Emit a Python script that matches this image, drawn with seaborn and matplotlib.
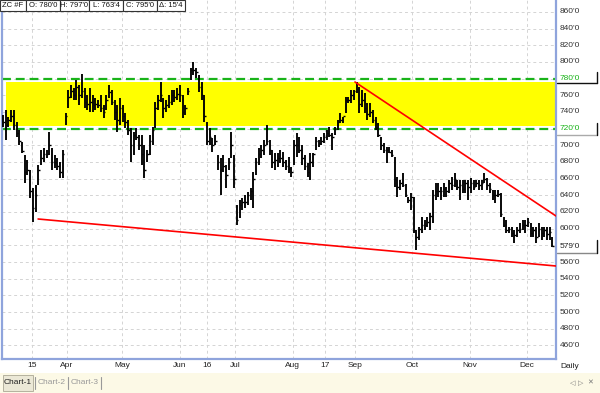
import numpy as np
import pandas as pd
import matplotlib
matplotlib.use("Agg")
import matplotlib.pyplot as plt
from matplotlib.patches import Rectangle
from matplotlib.lines import Line2D
import seaborn as sns

# ---------------- data ----------------
highs = [736, 742, 734, 742, 742, 728, 718, 704, 688, 682, 670, 649, 652, 676, 694, 697, 694, 716, 697, 688,
         685, 680, 694, 739, 766, 772, 769, 778, 772, 786, 769, 760, 769, 760, 757, 754, 760, 748, 760, 772,
         766, 754, 748, 757, 748, 739, 730, 721, 716, 721, 712, 712, 700, 694, 712, 722, 752, 760, 776, 757,
         754, 760, 766, 766, 769, 772, 760, 748, 769, 793, 800, 793, 784, 776, 760, 728, 721, 709, 712, 688,
         685, 688, 676, 685, 716, 688, 628, 634, 637, 640, 644, 649, 668, 685, 697, 700, 706, 724, 706, 694,
         691, 691, 694, 692, 682, 686, 674, 706, 715, 710, 700, 688, 679, 691, 691, 710, 706, 710, 715, 718,
         722, 715, 722, 730, 739, 734, 758, 758, 766, 766, 776, 770, 766, 763, 751, 751, 742, 734, 727, 710,
         703, 698, 698, 694, 686, 662, 658, 667, 654, 638, 643, 638, 598, 602, 614, 610, 614, 619, 646, 655,
         655, 650, 655, 650, 658, 662, 667, 658, 658, 658, 658, 658, 661, 658, 658, 658, 658, 667, 661, 655,
         646, 646, 646, 643, 614, 610, 602, 602, 598, 602, 607, 610, 610, 613, 607, 602, 602, 607, 602, 602,
         602, 602, 590]
lows = [722, 706, 722, 728, 718, 710, 700, 691, 655, 664, 637, 608, 620, 652, 676, 680, 685, 688, 670, 673,
        670, 661, 661, 724, 745, 757, 754, 754, 748, 757, 745, 742, 740, 740, 742, 745, 740, 733, 742, 757,
        748, 730, 716, 724, 728, 721, 712, 680, 688, 706, 694, 676, 661, 680, 688, 700, 721, 742, 752, 733,
        740, 745, 748, 752, 754, 752, 733, 736, 760, 778, 784, 781, 764, 754, 728, 700, 700, 692, 700, 670,
        640, 668, 649, 670, 685, 649, 604, 613, 622, 625, 628, 634, 625, 664, 676, 685, 688, 700, 688, 673,
        670, 674, 679, 674, 670, 667, 662, 676, 686, 691, 676, 670, 662, 658, 674, 694, 698, 700, 703, 706,
        710, 694, 712, 718, 727, 727, 739, 751, 751, 754, 763, 739, 746, 739, 730, 734, 727, 718, 710, 694,
        691, 679, 691, 686, 650, 638, 646, 650, 638, 631, 622, 595, 574, 586, 595, 598, 602, 598, 607, 634,
        638, 634, 638, 638, 643, 646, 650, 646, 634, 643, 643, 634, 643, 646, 650, 646, 646, 655, 646, 643,
        634, 631, 638, 614, 602, 595, 595, 590, 583, 590, 595, 598, 595, 602, 590, 590, 583, 590, 586, 590,
        586, 586, 578]
closes = [728, 725, 730, 735, 725, 715, 705, 693, 668, 670, 645, 625, 640, 670, 685, 690, 690, 700, 680, 680,
          675, 668, 690, 735, 758, 765, 760, 770, 760, 765, 752, 750, 752, 748, 750, 748, 745, 740, 755, 764,
          752, 740, 730, 745, 735, 728, 718, 700, 712, 710, 700, 690, 670, 690, 705, 718, 745, 755, 760, 745,
          748, 752, 760, 758, 762, 760, 740, 745, 765, 790, 790, 788, 770, 760, 735, 705, 710, 700, 705, 680,
          672, 675, 665, 680, 700, 660, 610, 628, 632, 632, 640, 645, 660, 680, 690, 695, 700, 705, 695, 680,
          682, 685, 685, 680, 675, 672, 668, 700, 700, 695, 685, 675, 668, 680, 690, 705, 703, 705, 710, 715,
          713, 710, 720, 728, 730, 735, 755, 755, 760, 765, 768, 750, 755, 745, 738, 740, 730, 722, 712, 700,
          695, 695, 692, 688, 660, 650, 655, 652, 640, 635, 638, 598, 590, 600, 605, 605, 608, 615, 640, 645,
          645, 645, 648, 645, 655, 652, 660, 650, 652, 648, 655, 650, 655, 650, 655, 652, 655, 660, 652, 648,
          640, 640, 642, 618, 605, 598, 600, 595, 592, 598, 600, 605, 605, 608, 595, 598, 590, 600, 595, 598,
          594, 596, 579]

tick_pos = [10.7, 23.5, 43.75, 65.1, 75.0, 85.3, 106.6, 118.4, 129.4, 150.4, 171.7, 192.6]
tick_labels = ["15", "Apr", "May", "Jun", "16", "Jul", "Aug", "17", "Sep", "Oct", "Nov", "Dec"]
price_grid = list(range(460, 861, 20))
price_labels = [860, 840, 820, 800, 780, 760, 740, 720, 700, 680, 660, 640, 620, 600, 560, 540, 520, 500, 480, 460]
level_prices = [780, 720]
band_low, band_high, band_start = 723, 776, 1.1
support_x, support_y = [12.9, 203.3], [611.6, 555.2]
resist_x, resist_y = [129.4, 203.3], [776.0, 615.2]
last_price = 579
header = ["ZC #F", "O: 780'0", "H: 797'0", "L: 763'4", "C: 795'0", "Δ: 15'4"]
tabs = ["Chart-1", "Chart-2", "Chart-3"]

# ---------------- figure ----------------
sns.set_style("white")
plt.rcParams['font.family'] = ['Liberation Sans', 'DejaVu Sans']

W, H = 600, 393
fig = plt.figure(figsize=(W / 100, H / 100), dpi=100)
ax = fig.add_axes([2 / W, 1 - 359 / H, 554 / W, 359 / H])
ax.set_xlim(-0.37, 203.3)
ax.set_ylim(443.6, 874.4)

df = pd.DataFrame({"i": np.arange(len(highs)), "high": highs, "low": lows, "close": closes})

# grid
ax.set_yticks(price_grid)
ax.set_xticks(tick_pos)
ax.set_xticklabels(tick_labels, fontsize=6, color="#222222")
ax.tick_params(axis="x", length=0, pad=2.5)
ax.tick_params(axis="y", length=0, labelleft=False)
ax.grid(True, color="#d4d4d4", linestyle=(0, (3, 3)), linewidth=0.7, zorder=0)
ax.set_axisbelow(True)

# yellow band + green levels
ax.add_patch(Rectangle((band_start, band_low), 203.3 - band_start, band_high - band_low,
                       facecolor="#ffff00", edgecolor="none", zorder=1))
for lp in level_prices:
    ax.axhline(lp, color="#19b319", linestyle=(0, (4, 2.2)), linewidth=1.6, zorder=2)

# OHLC bars
ax.vlines(df["i"], df["low"], df["high"], color="black", linewidth=1.35, zorder=3)
ax.hlines(df["close"], df["i"], df["i"] + 0.55, color="black", linewidth=1.0, zorder=3)

# trend lines
sns.lineplot(x=support_x, y=support_y, color="red", linewidth=1.2, ax=ax, zorder=4)
sns.lineplot(x=resist_x, y=resist_y, color="red", linewidth=1.2, ax=ax, zorder=4)

# spines
ax.spines["top"].set_visible(False)
for s in ["left", "bottom", "right"]:
    ax.spines[s].set_color("#8fa4dc")
    ax.spines[s].set_linewidth(1.6)

# right price labels
ytr = ax.get_yaxis_transform()
for p in price_labels:
    col = "#19b319" if p in level_prices else "#333333"
    ax.text(1.007, p, f"{p}'0", transform=ytr, fontsize=6, color=col,
            ha="left", va="center", clip_on=False)
ax.text(1.007, last_price, f"{last_price}'0", transform=ytr, fontsize=6, color="#222222",
        ha="left", va="center", clip_on=False)


def fx(px):
    return px / W


def fy(py):
    return 1 - py / H


def fline(x0, y0, x1, y1, color="black", lw=1.0):
    fig.add_artist(Line2D([fx(x0), fx(x1)], [fy(y0), fy(y1)], color=color, linewidth=lw,
                          transform=fig.transFigure))


# marker boxes on right axis
fline(557, 83, 597, 83, "#111111", 1.0)
fline(597, 72, 597, 83, "#111111", 1.0)
fline(557, 135, 597, 135, "#aaaaaa", 1.0)
fline(597, 123, 597, 135, "#111111", 1.0)
fline(557, 253, 597, 253, "#888888", 1.0)
fline(597, 240, 597, 253, "#111111", 1.0)

fig.text(fx(560), fy(366), "Daily", fontsize=6, color="#222222", ha="left", va="center")

# header box
edges = [0, 26, 60, 89, 123, 157, 185]
for k, t in enumerate(header):
    x0, x1 = edges[k], edges[k + 1]
    fig.add_artist(Rectangle((fx(x0), fy(11)), fx(x1) - fx(x0), 11 / H, transform=fig.transFigure,
                             facecolor="white", edgecolor="#333333", linewidth=0.8, zorder=10))
    fig.text(fx((x0 + x1) / 2), fy(5.5), t, fontsize=5.5, color="#111111", ha="center", va="center", zorder=11)

# tab bar
fig.add_artist(Rectangle((0, 0), 1, fy(373), transform=fig.transFigure,
                         facecolor="#fcf9e6", edgecolor="none", zorder=0))
fig.add_artist(Rectangle((fx(3), fy(391)), fx(33) - fx(3), 16 / H, transform=fig.transFigure,
                         facecolor="#ebe8d6", edgecolor="#b5b29f", linewidth=0.7, zorder=1))
tab_x = [18, 52, 85]
for k, t in enumerate(tabs):
    fig.text(fx(tab_x[k]), fy(383), t, fontsize=6, ha="center", va="center",
             color="#222222" if k == 0 else "#999999", zorder=2)
for sx in [35, 68, 101]:
    fline(sx, 377, sx, 389, "#999999", 0.8)
fig.text(fx(573), fy(383), "◁", fontsize=5, color="#777777", ha="center", va="center",
         family=["DejaVu Sans"])
fig.text(fx(581), fy(383), "▷", fontsize=5, color="#777777", ha="center", va="center",
         family=["DejaVu Sans"])
fig.text(fx(590), fy(383), "✕", fontsize=5, color="#777777", ha="center", va="center",
         family=["DejaVu Sans"])

fig.savefig("out.png", dpi=100)
